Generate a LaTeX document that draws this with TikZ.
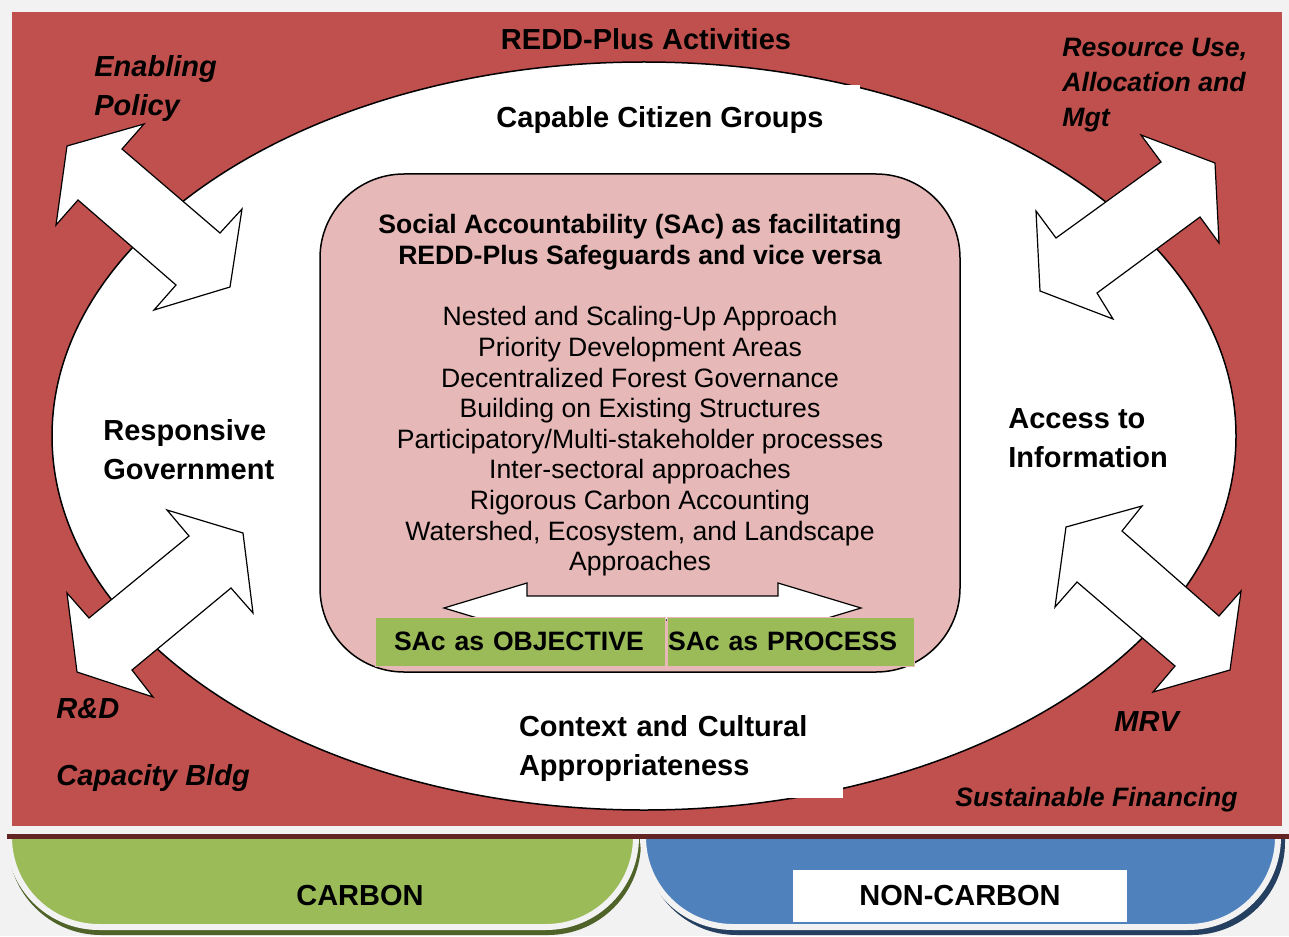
\documentclass[tikz,border=0pt]{standalone}
\usepackage{fontspec}
\setmainfont{Liberation Sans}
\usetikzlibrary{calc}
\definecolor{reddplus}{HTML}{C0504D}
\definecolor{sacpink}{HTML}{E6B8B7}
\definecolor{carbongreen}{HTML}{9BBB59}
\definecolor{noncarbonblue}{HTML}{4F81BD}
\definecolor{bggray}{HTML}{F2F2F2}
\definecolor{darkline}{HTML}{632523}
\definecolor{olivedark}{HTML}{4F6228}
\definecolor{navydark}{HTML}{243F60}
\tikzset{
    biglbl/.style = {font=\bfseries\fontsize{14.5}{19.5}\selectfont,
        align=left, inner sep=0pt},
    itlbl/.style = {biglbl, font=\bfseries\itshape\fontsize{14.5}{19.5}\selectfont},
    smallit/.style = {biglbl, font=\bfseries\itshape\fontsize{13.3}{17.5}\selectfont},
    listtxt/.style = {font=\fontsize{13.3}{15.3}\selectfont, align=center, inner sep=0pt},
    sacbox/.style = {fill=carbongreen, draw=sacpink, line width=0.5pt,
        minimum height=24.5pt, align=left,
        font=\bfseries\fontsize{13.3}{15}\selectfont},
    dblarrow/.style = {fill=white, draw=black, line width=0.6pt},
    band/.style = {line width=3pt, rounded corners=45pt}
}

\begin{document}
\begin{tikzpicture}[x=0.5pt, y=-0.5pt]
        \useasboundingbox (0,0) rectangle (1289,936);
        \fill[bggray] (0,0) rectangle (1289,936);
        \begin{scope}
            \clip (0,834) rectangle (1289,936);
            \draw[band, draw=olivedark, fill=olivedark] (11,700) rectangle (638,932);
            \draw[band, draw=bggray, fill=carbongreen] (9,700) rectangle (636,927);
            \draw[band, draw=navydark, fill=navydark] (647,700) rectangle (1282,932);
            \draw[band, draw=bggray, fill=noncarbonblue] (643,700) rectangle (1278,927);
        \end{scope}
        \fill[reddplus] (12,12) rectangle (1282,826);
        \fill[darkline] (7,834) rectangle (1289,839);
        \node [biglbl] (carbon) at (360,896) {CARBON};
        \node [biglbl, fill=white, minimum width=167pt, minimum height=26pt, align=center] (noncarbon) at (960,896) {NON-CARBON};

        \draw[fill=white, line width=0.75pt] (644,436) ellipse [x radius=296pt, y radius=187pt];
        \node [draw, fill=sacpink, rounded corners=42pt, line width=0.75pt,
            minimum width=320pt, minimum height=249pt] (sacpanel) at (640,423) {};
        \draw[dblarrow] (444,608) -- (527,583) -- (527,596) -- (778,596) -- (778,583) -- (861,608)
            -- (778,633) -- (778,620) -- (527,620) -- (527,633) -- cycle;
        \node [sacbox, text width=126pt, inner xsep=9.5pt] (sacobj) at (520,641.5) {SAc as OBJECTIVE};
        \node [sacbox, text width=122.5pt, inner xsep=0.5pt] (sacproc) at (790.5,641.5) {SAc as PROCESS};

        \draw[dblarrow] (67,146) -- (144,124) -- (122,149) -- (220,233) -- (242,209) -- (230,287)
            -- (154,310) -- (176,285) -- (78,200) -- (56,225) -- cycle;
        \draw[dblarrow] (1141,135) -- (1215,163) -- (1219,243) -- (1200,217) -- (1097,293) -- (1113,319)
            -- (1040,291) -- (1036,211) -- (1056,238) -- (1161,162) -- cycle;
        \draw[dblarrow] (167,510) -- (243,533) -- (253,613) -- (231,588) -- (132,670) -- (153,697)
            -- (77,672) -- (67,593) -- (89,618) -- (189,536) -- cycle;
        \draw[dblarrow] (1142,506) -- (1122,531) -- (1219,616) -- (1241,591) -- (1230,670) -- (1153,692)
            -- (1175,666) -- (1077,582) -- (1055,607) -- (1066,527) -- cycle;

        \node [biglbl] (activities) at (646,39) {REDD-Plus Activities};
        \node [biglbl, fill=white, minimum width=200pt, minimum height=35pt, align=center] (citizens) at (660,120) {Capable Citizen Groups};
        \node [biglbl, fill=white, text width=152.5pt, inner xsep=9.5pt, minimum height=49.5pt] (context) at (671.5,748.5) {Context and Cultural\\Appropriateness};
        \node [biglbl, anchor=west] (government) at (103,450) {Responsive\\Government};
        \node [biglbl, anchor=west] (information) at (1008,438.5) {Access to\\Information};

        \node [listtxt, font=\bfseries\fontsize{13.3}{15.5}\selectfont] (sactitle) at (640,242.5) {Social Accountability (SAc) as facilitating\\REDD-Plus Safeguards and vice versa};
        \node [listtxt] (approaches) at (640,441.5) {Nested and Scaling-Up Approach\\Priority Development Areas\\Decentralized Forest Governance\\Building on Existing Structures\\Participatory/Multi-stakeholder processes\\Inter-sectoral approaches\\Rigorous Carbon Accounting\\Watershed, Ecosystem, and Landscape\\Approaches};

        \node [itlbl, anchor=west] (policy) at (94,88.5) {Enabling\\Policy};
        \node [smallit, anchor=west] (resource) at (1062,85) {Resource Use,\\Allocation and\\Mgt};
        \node [itlbl, anchor=west] (rnd) at (56,709) {R\&D};
        \node [itlbl, anchor=west] (capacity) at (56,778) {Capacity Bldg};
        \node [itlbl, anchor=west] (mrv) at (1114,722) {MRV};
        \node [smallit, anchor=west] (financing) at (955,800) {Sustainable Financing};
    \end{tikzpicture}
\end{document}
